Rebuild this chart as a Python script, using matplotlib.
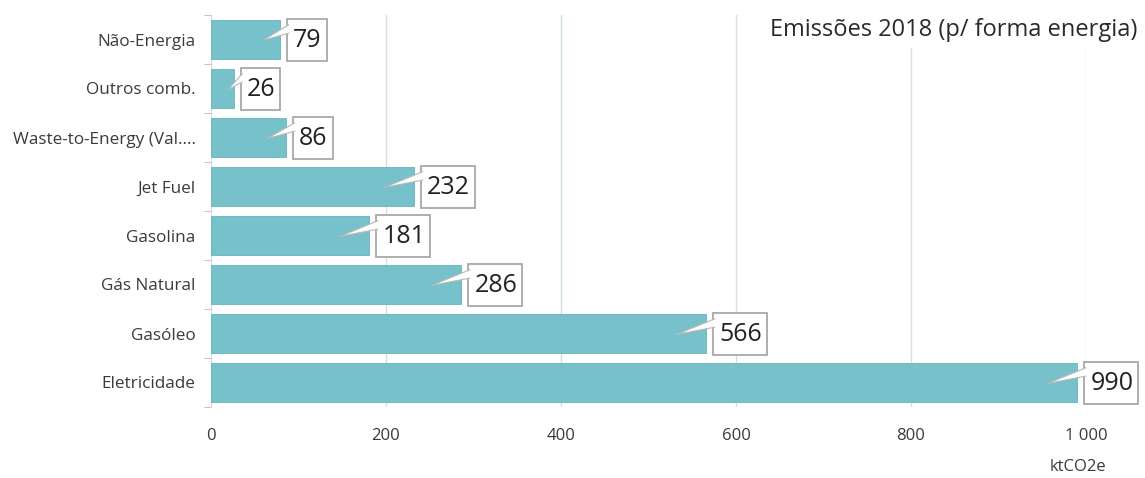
import numpy as np
import matplotlib.pyplot as plt
from matplotlib.patches import Polygon, Rectangle
from matplotlib.lines import Line2D

plt.rcParams['font.family'] = ['Open Sans', 'DejaVu Sans']

# --- dados ---
categorias = ['Não-Energia', 'Outros comb.', 'Waste-to-Energy (Val....', 'Jet Fuel',
              'Gasolina', 'Gás Natural', 'Gasóleo', 'Eletricidade']
valores = [79, 26, 86, 232, 181, 286, 566, 990]
xticks = [0, 200, 400, 600, 800, 1000]
xtick_labels = ['0', '200', '400', '600', '800', '1 000']

BAR_COLOR = '#76c1ca'
GRID_COLOR = '#d0e0e6'
TEXT_COLOR = '#3a3a3a'
BOX_EDGE = '#a8a8a8'

fig = plt.figure(figsize=(11.45, 4.78), dpi=100)
ax = fig.add_axes([211 / 1145, 1 - 407 / 478, (1086 - 211) / 1145, 392 / 478])

y = np.arange(len(categorias))
ax.barh(y, valores, height=0.78, color=BAR_COLOR, edgecolor='#66b4be', linewidth=0.6, zorder=2)

ax.set_xlim(0, 1000)
ax.set_ylim(len(categorias) - 0.5, -0.5)

ax.set_xticks(xticks)
ax.set_xticklabels(xtick_labels, fontsize=12, color=TEXT_COLOR)
ax.set_yticks(y)
ax.set_yticklabels(categorias, fontsize=12.3, color=TEXT_COLOR)
ax.set_yticks(np.arange(len(categorias) + 1) - 0.5, minor=True)
ax.tick_params(axis='y', which='major', length=0, pad=11)
ax.tick_params(axis='y', which='minor', length=5, color='#e8b8b8', width=0.8)
ax.tick_params(axis='x', length=0, pad=15)

ax.grid(axis='x', color=GRID_COLOR, linewidth=1.0, zorder=0)
ax.set_axisbelow(True)
for s in ax.spines.values():
    s.set_visible(False)

# rótulos com balão (caixa + ponteiro)
px = 1000 / (1086 - 211)   # unidades de dados por pixel
textos = []
for i, v in enumerate(valores):
    box_left = v + 7 * px
    t = ax.text(box_left + 6 * px, i + 0.03, str(v), ha='left', va='center', fontsize=18,
                color='#222222', zorder=7)
    textos.append(t)

fig.canvas.draw()
renderer = fig.canvas.get_renderer()
inv = ax.transData.inverted()
for i, (v, t) in enumerate(zip(valores, textos)):
    box_left = v + 7 * px
    bb = t.get_window_extent(renderer)
    right = inv.transform((bb.x1, bb.y0))[0] + 5 * px
    ax.add_patch(Rectangle((box_left, i - 0.41), right - box_left, 0.84,
                           fc='white', ec=BOX_EDGE, lw=1.3, zorder=5, clip_on=False))
    tip = (v - min(34, v * 0.25), i + 0.02)
    b1 = (box_left + 1.5 * px, i - 0.30)
    b2 = (box_left + 1.5 * px, i - 0.13)
    ax.add_patch(Polygon([tip, b1, b2], closed=True, fc='white', ec='none', zorder=6, clip_on=False))
    ax.add_line(Line2D([b1[0], tip[0], b2[0]], [b1[1], tip[1], b2[1]],
                       color='#b8b8b8', lw=0.8, zorder=6, clip_on=False))

fig.text(1137 / 1145, 1 - 30 / 478, 'Emissões 2018 (p/ forma energia)', ha='right', va='center',
         fontsize=17, color='#2a2a2a',
         bbox=dict(boxstyle='square,pad=0.25', fc='white', ec='none'), zorder=10)
fig.text(1078 / 1145, 1 - 467 / 478, 'ktCO2e', ha='center', va='center', fontsize=12, color=TEXT_COLOR)

fig.savefig('out.png', dpi=100)
